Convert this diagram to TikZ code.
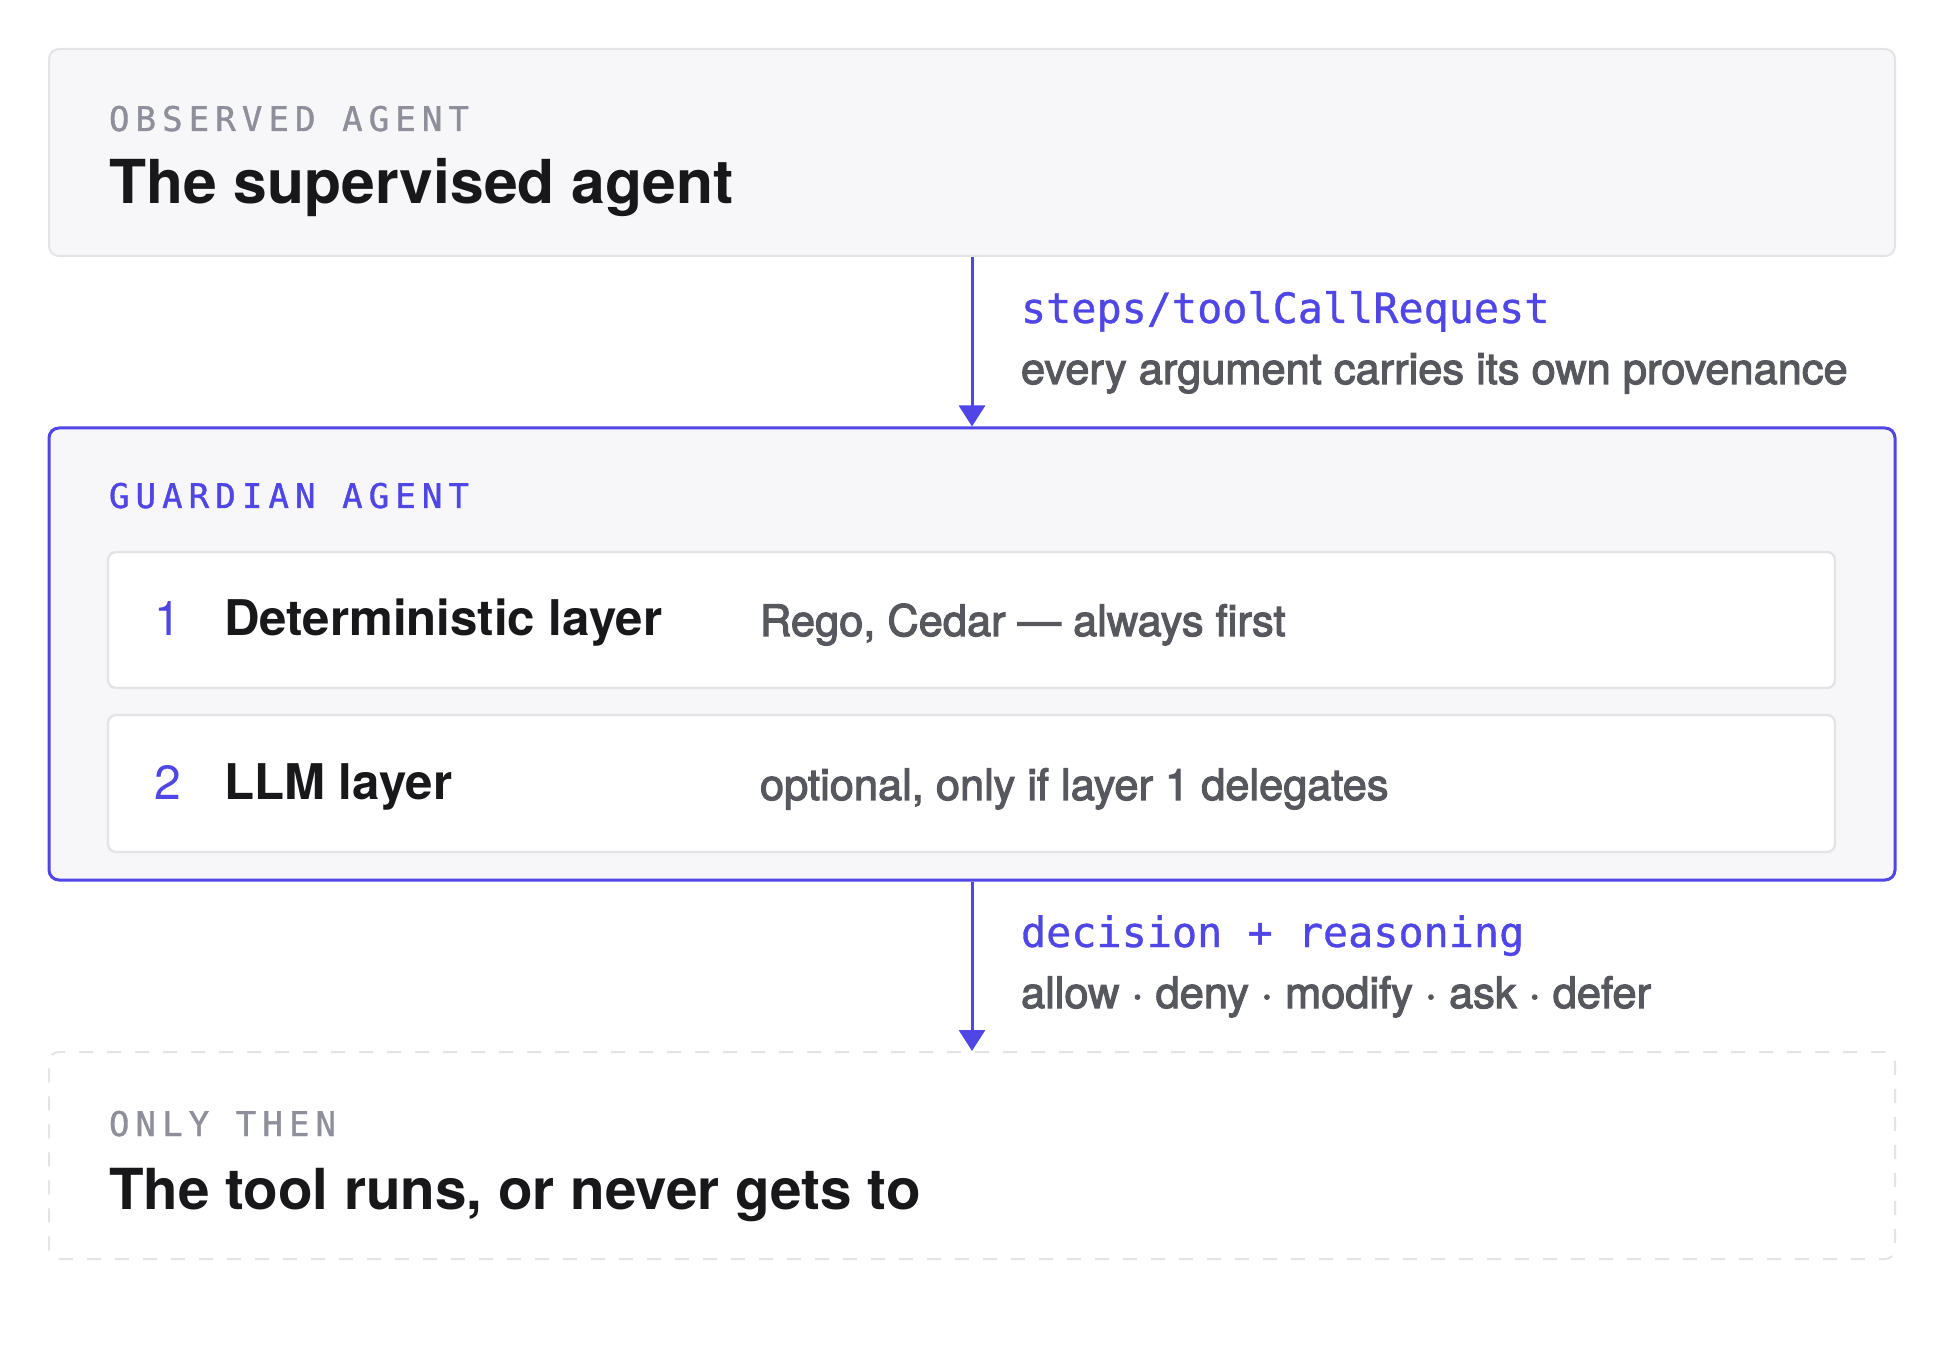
\documentclass[tikz,border=0pt]{standalone}
\usepackage{fontspec}
\setmainfont{TeX Gyre Heros}
\newfontfamily\herosmed{TeX Gyre Heros}[FakeBold=2.6]
\newfontfamily\monofont{DejaVu Sans Mono}[FakeBold=0.8]
\newfontfamily\monols{DejaVu Sans Mono}[LetterSpace=18, FakeBold=1.2]
\usetikzlibrary{arrows.meta}
\definecolor{accent}{HTML}{4F46E5}
\definecolor{ink}{HTML}{18181B}
\definecolor{graytxt}{HTML}{57575E}
\definecolor{labelgray}{HTML}{8F8F9B}
\definecolor{panelbg}{HTML}{F7F7F9}
\definecolor{edge}{HTML}{E4E4E7}
\tikzset{
  panel/.style={draw=edge, line width=1pt, fill=panelbg, rounded corners=5pt,
    minimum width=923pt, minimum height=103.5pt, inner sep=0pt},
  guardpanel/.style={draw=accent, line width=1.5pt, fill=panelbg, rounded corners=5pt,
    minimum width=923pt, minimum height=226pt, inner sep=0pt},
  layerbox/.style={draw=edge, line width=1.2pt, fill=white, rounded corners=4pt,
    minimum width=863.5pt, minimum height=68pt, inner sep=0pt},
  dashpanel/.style={draw=edge, line width=1pt, dash pattern=on 7pt off 7pt,
    rounded corners=5pt, minimum width=923pt, minimum height=103.5pt, inner sep=0pt},
  txt/.style={anchor=base west, inner sep=0pt, outer sep=0pt},
  eyebrow/.style={txt, text=labelgray, font=\monols\fontsize{17pt}{20pt}\selectfont},
  title/.style={txt, text=ink, font=\bfseries\fontsize{30.3pt}{36pt}\selectfont},
  flowlabel/.style={txt, text=accent, font=\monofont\fontsize{20.9pt}{25pt}\selectfont},
  note/.style={txt, text=graytxt, font=\herosmed\fontsize{21.7pt}{26pt}\selectfont},
  num/.style={txt, text=accent, font=\fontsize{24pt}{28pt}\selectfont},
  layername/.style={txt, text=ink, font=\bfseries\fontsize{24.6pt}{28pt}\selectfont},
  flow/.style={draw=accent, line width=1.5pt, -{Triangle[width=13pt,length=10.5pt]}},
}
\begin{document}
\begin{tikzpicture}[x=0.5pt, y=-0.5pt]
\useasboundingbox[fill=white] (0,0) rectangle (1944,1368);

% panels
\node[panel] (obs) at (972,152.5) {};
\node[guardpanel] (guard) at (972,654) {};
\node[layerbox] (layer1) at (971.5,620) {};
\node[layerbox, minimum height=68.5pt] (layer2) at (971.5,783.5) {};
\node[dashpanel] (tool) at (972,1155.5) {};

% observed agent
\node[eyebrow] (obslabel) at (109,131) {OBSERVED AGENT};
\node[title] (obstitle) at (109,204) {The supervised agent};

% first connector
\draw[flow] (obs.south) -- (guard.north);
\node[flowlabel] (req) at (1021,323) {steps/toolCallRequest};
\node[note] (reqnote) at (1021,384) {every argument carries its own provenance};

% guardian
\node[eyebrow, text=accent] (guardlabel) at (109,508) {GUARDIAN AGENT};
\node[num] (n1) at (154,636) {1};
\node[layername] (l1name) at (224,636) {Deterministic layer};
\node[note] (l1note) at (760,636) {Rego, Cedar — always first};
\node[num] (n2) at (154,800) {2};
\node[layername] (l2name) at (224,800) {LLM layer};
\node[note] (l2note) at (760,800) {optional, only if layer 1 delegates};

% second connector
\draw[flow] (guard.south) -- (tool.north);
\node[flowlabel] (dec) at (1021,947) {decision + reasoning};
\node[note] (decnote) at (1021,1008) {allow · deny · modify · ask · defer};

% tool
\node[eyebrow] (toollabel) at (109,1136) {ONLY THEN};
\node[title, font=\bfseries\fontsize{28.3pt}{34pt}\selectfont] (tooltitle) at (109,1209) {The tool runs, or never gets to};
\end{tikzpicture}
\end{document}
